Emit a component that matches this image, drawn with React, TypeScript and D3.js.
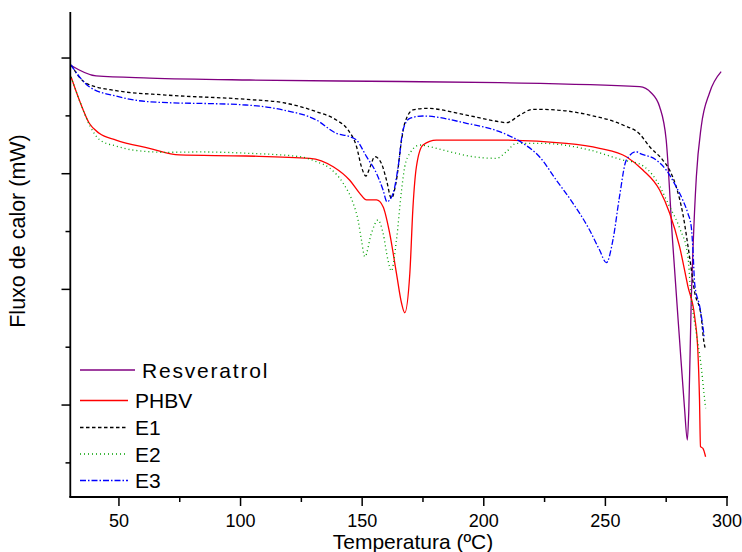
import React from "react";
import * as d3 from "d3";

const xTicks = [50, 100, 150, 200, 250, 300];
const xMinorTicks = [75, 125, 175, 225, 275];
const yTicks = [1, 2, 3, 4];
const yMinorTicks = [0.5, 1.5, 2.5, 3.5];

const resveratrolT = [30, 40.6, 62.7, 103.8, 165.4, 206.5, 264.1, 268.9, 272.3, 275.0, 277.6, 280.5, 282.5, 283.7, 284.3, 285.3, 286.0, 287.4, 289.4, 292.8, 297.6];
const resveratrolV = [3.94, 3.845, 3.827, 3.81, 3.797, 3.787, 3.752, 3.698, 3.579, 3.291, 2.427, 1.562, 0.983, 0.698, 0.957, 1.908, 2.34, 2.974, 3.406, 3.698, 3.882];

const phbvT = [30.3, 33.7, 37.8, 41.9, 48.8, 62.5, 74.8, 102.2, 128.5, 138.1, 144.9, 149.0, 151.8, 155.9, 158.6, 161.3, 164.1, 166.2, 167.5, 169.6, 170.9, 172.3, 175.0, 180.5, 206.5, 233.9, 247.6, 258.6, 265.4, 272.3, 276.4, 280.5, 283.9, 286.7, 288.0, 288.7, 289.1, 290.1, 291.2];
const phbvV = [3.838, 3.637, 3.436, 3.349, 3.291, 3.22, 3.162, 3.153, 3.133, 3.06, 2.943, 2.83, 2.773, 2.773, 2.715, 2.487, 2.139, 1.88, 1.798, 2.139, 2.715, 3.06, 3.248, 3.291, 3.291, 3.263, 3.22, 3.147, 3.032, 2.859, 2.66, 2.369, 2.029, 1.764, 1.476, 1.044, 0.64, 0.626, 0.553];

const e1T = [30.3, 36.5, 48.8, 69.3, 102.2, 117.5, 131.2, 139.4, 144.2, 147.7, 149.7, 151.5, 153.1, 155.2, 157.9, 160.0, 162.0, 164.1, 166.2, 167.5, 170.9, 176.4, 192.9, 206.5, 209.3, 214.8, 220.2, 229.8, 243.5, 257.2, 264.1, 268.2, 273.6, 276.4, 279.1, 281.8, 284.6, 286.7, 289.4, 290.4, 291.2];
const e1V = [3.94, 3.782, 3.718, 3.68, 3.643, 3.614, 3.536, 3.464, 3.378, 3.233, 3.06, 2.98, 3.049, 3.147, 3.09, 2.945, 2.787, 2.945, 3.291, 3.436, 3.551, 3.565, 3.507, 3.449, 3.441, 3.507, 3.557, 3.551, 3.507, 3.421, 3.343, 3.233, 3.118, 3.031, 2.888, 2.658, 2.282, 1.977, 1.764, 1.562, 1.476];

const e2T = [30.3, 34.0, 38.1, 42.2, 48.8, 55.6, 69.3, 83.3, 103.8, 124.4, 131.2, 136.7, 142.2, 146.3, 148.3, 149.7, 151.1, 153.8, 156.5, 158.6, 160.6, 162.0, 164.1, 166.2, 167.5, 169.6, 173.7, 177.8, 186.0, 195.6, 205.2, 209.3, 213.4, 223.0, 243.5, 257.2, 264.1, 270.9, 276.4, 280.5, 283.9, 285.1, 287.4, 289.4, 290.4, 291.2];
const e2V = [3.836, 3.62, 3.412, 3.291, 3.239, 3.205, 3.185, 3.188, 3.176, 3.147, 3.104, 3.047, 2.917, 2.744, 2.6, 2.427, 2.282, 2.485, 2.6, 2.485, 2.254, 2.159, 2.427, 2.859, 3.06, 3.176, 3.248, 3.233, 3.19, 3.147, 3.133, 3.19, 3.263, 3.263, 3.205, 3.118, 3.084, 2.945, 2.715, 2.531, 2.29, 1.966, 1.62, 1.331, 1.13, 0.972];

const e3T = [30.3, 33.7, 37.8, 48.8, 62.5, 102.2, 117.5, 131.2, 139.4, 144.9, 147.7, 151.8, 155.9, 158.6, 160.2, 162.7, 164.8, 166.8, 169.6, 175.0, 192.9, 206.5, 216.1, 222.9, 229.8, 236.7, 243.5, 247.6, 250.4, 253.1, 255.8, 258.6, 262.7, 264.1, 270.9, 275.0, 279.1, 281.8, 283.9, 285.3, 286.0, 286.7, 288.8, 289.9, 290.6];
const e3V = [3.94, 3.839, 3.752, 3.671, 3.622, 3.594, 3.551, 3.464, 3.349, 3.32, 3.291, 3.147, 3.003, 2.859, 2.758, 2.83, 3.06, 3.378, 3.479, 3.499, 3.436, 3.363, 3.263, 3.147, 2.945, 2.744, 2.513, 2.34, 2.231, 2.427, 2.801, 3.118, 3.19, 3.176, 3.118, 3.032, 2.888, 2.773, 2.658, 2.542, 2.34, 2.052, 1.85, 1.707, 1.591];

const seriesNames = ["Resveratrol", "PHBV", "E1", "E2", "E3"];
const seriesT = [resveratrolT, phbvT, e1T, e2T, e3T];
const seriesV = [resveratrolV, phbvV, e1V, e2V, e3V];
const seriesColors = ["#800080", "#ff0000", "#000000", "#00a000", "#0000ff"];
const seriesDash = [null, null, "3.5,2.5", "1,3", "6,2,1.5,2"];

const FONT = "Arial, 'Liberation Sans', sans-serif";

export default function App() {
  const W = 742, H = 552;
  const x = d3.scaleLinear().domain([30, 300]).range([70.3, 727]);
  const y = d3.scaleLinear().domain([0.205, 4.398]).range([497, 12]);
  const line = d3.line<[number, number]>()
    .x((d) => x(d[0]))
    .y((d) => y(d[1]))
    .curve(d3.curveMonotoneX);

  const legendY = [370, 400.5, 427.5, 454, 480.5];

  return (
    <svg width={W} height={H} style={{ position: "absolute", left: 0, top: 0 }} fontFamily={FONT}>
      <rect width={W} height={H} fill="#fff" />
      {seriesNames.map((n, i) => {
        const pts = seriesT[i].map((t, j) => [t, seriesV[i][j]] as [number, number]);
        return (
          <path key={n} d={line(pts) || ""} fill="none" stroke={seriesColors[i]}
            strokeWidth={1.3} strokeDasharray={seriesDash[i] || undefined} />
        );
      })}
      {/* axes */}
      <line x1={x(30)} x2={x(30)} y1={y(4.398)} y2={y(0.205)} stroke="#000" strokeWidth={1.8} />
      <line x1={x(30) - 1} x2={x(300) + 1} y1={y(0.205)} y2={y(0.205)} stroke="#000" strokeWidth={1.8} />
      {xTicks.map((t) => (
        <g key={"xt" + t}>
          <line x1={x(t)} x2={x(t)} y1={497} y2={506} stroke="#000" strokeWidth={1.5} />
          <text x={x(t)} y={527} fontSize={18} textAnchor="middle" fill="#000">{t}</text>
        </g>
      ))}
      {xMinorTicks.map((t) => (
        <line key={"xm" + t} x1={x(t)} x2={x(t)} y1={497} y2={502} stroke="#000" strokeWidth={1.5} />
      ))}
      {yTicks.map((t) => (
        <line key={"yt" + t} x1={61.5} x2={70.3} y1={y(t)} y2={y(t)} stroke="#000" strokeWidth={1.5} />
      ))}
      {yMinorTicks.map((t) => (
        <line key={"ym" + t} x1={65.5} x2={70.3} y1={y(t)} y2={y(t)} stroke="#000" strokeWidth={1.5} />
      ))}
      <text x={413} y={549} fontSize={21} textAnchor="middle" fill="#000">Temperatura (ºC)</text>
      <text transform="translate(25,231) rotate(-90)" fontSize={21.5} textAnchor="middle" fill="#000">Fluxo de calor (mW)</text>
      {/* legend */}
      {seriesNames.map((n, i) => (
        <g key={"lg" + n}>
          <line x1={80} x2={i === 0 ? 135 : 128} y1={legendY[i]} y2={legendY[i]} stroke={seriesColors[i]}
            strokeWidth={1.3} strokeDasharray={seriesDash[i] || undefined} />
          <text x={i === 0 ? 142 : 135} y={legendY[i] + 7.5} fontSize={21} fill="#000"
            letterSpacing={i === 0 ? 1.8 : 0}>{n}</text>
        </g>
      ))}
    </svg>
  );
}
